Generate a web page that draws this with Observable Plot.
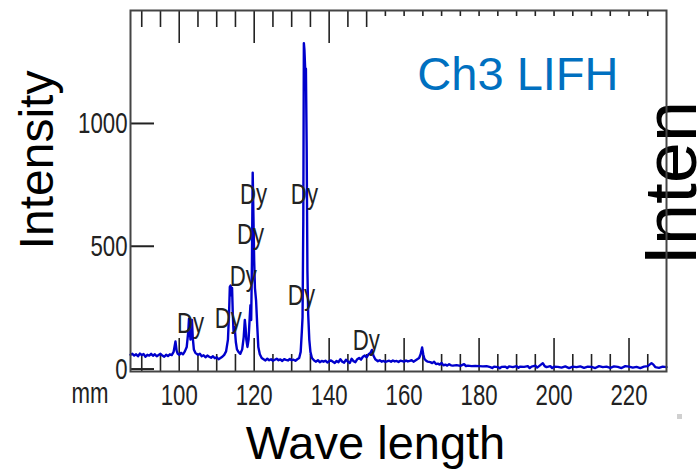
<!DOCTYPE html>
<html><head><meta charset="utf-8">
<script src="https://cdn.jsdelivr.net/npm/d3@7"></script>
<script src="https://cdn.jsdelivr.net/npm/@observablehq/plot@0.6"></script>
<style>
body{margin:0;background:#fff;overflow:hidden}
#chart{position:relative;width:697px;height:476px}
#speck{position:absolute;left:677px;top:414px;width:5px;height:5px;background:#d0d0d0}
</style>
</head><body><div id="chart"><div id="speck"></div></div>
<script>
// Spectrum (wave length vs intensity)
const wavelength = [
 87.0,87.5,88.0,88.5,89.0,89.5,90.0,90.5,91.0,91.5,92.0,92.5,93.0,93.5,94.0,94.5,95.0,95.5,96.0,96.5,97.0,97.5,98.0,98.5,99.0,99.3,99.6,
 100.0,100.5,101.0,101.5,102.0,102.4,102.6,102.8,103.0,103.2,103.4,103.6,103.9,104.3,105.0,105.5,106.0,106.5,107.0,107.5,108.0,108.5,109.0,109.5,
 110.0,110.5,111.0,111.5,112.0,112.5,113.0,113.3,113.5,113.7,113.9,114.1,114.3,114.5,114.8,115.1,115.4,115.8,116.3,116.8,117.2,117.5,117.7,117.9,
 118.2,118.5,118.8,119.0,119.2,119.4,119.6,119.8,120.0,120.2,120.5,120.8,121.1,121.5,122.0,122.5,123.0,123.5,124.0,124.5,125.0,125.5,126.0,126.5,
 127.0,127.5,128.0,128.5,129.0,129.5,130.0,130.5,131.0,131.5,132.0,132.4,132.7,132.9,133.1,133.25,133.4,133.6,133.8,134.0,134.2,134.4,134.7,135.0,
 135.4,136.0,136.5,137.0,137.5,138.0,138.5,139.0,139.5,140.0,140.5,141.0,141.5,142.0,142.5,143.0,143.5,144.0,144.5,145.0,145.5,146.0,146.5,147.0,
 147.5,148.0,148.5,149.0,149.5,150.0,150.5,151.0,151.4,151.8,152.3,153.0,153.5,154.0,154.5,155.0,156.0,156.5,157.0,157.5,158.0,158.5,159.0,160.0,
 160.5,161.0,161.5,162.0,162.5,163.0,163.5,164.0,164.4,164.8,165.1,165.4,165.8,166.3,167.0,167.5,168.0,168.5,169.0,169.5,170.0,170.5,171.0,171.5,
 172.0,172.5,173.0,174.0,175.0,176.0,176.5,177.0,178.0,179.0,180.0,181.0,182.0,183.0,183.5,184.0,185.0,185.5,186.0,187.0,187.5,188.0,189.0,190.0,
 190.5,191.0,192.0,193.0,193.5,194.0,195.0,195.5,196.0,197.0,197.5,198.0,199.0,199.5,200.0,201.0,202.0,203.0,204.0,205.0,206.0,207.0,208.0,209.0,
 210.0,211.0,212.0,213.0,214.0,215.0,216.0,217.0,218.0,219.0,220.0,221.0,222.0,223.0,224.0,225.0,226.0,226.5,227.0,228.0,229.0,230.0
];
const intensity = [
 58,62,55,60,52,63,57,61,50,58,55,62,54,60,52,57,62,55,50,58,53,60,57,70,112,75,62,
 58,66,60,72,90,150,205,160,120,190,200,130,80,66,58,62,52,56,48,55,50,46,52,44,
 48,40,45,50,58,72,120,230,335,340,300,330,220,150,170,110,80,70,62,80,130,200,170,120,
 90,120,210,260,200,440,800,620,440,330,280,180,90,60,45,40,35,42,36,40,34,38,42,36,
 39,33,40,37,35,41,36,38,34,40,45,70,150,210,600,1327,1300,1223,1223,900,400,225,120,70,
 45,35,30,36,28,33,30,34,27,32,35,30,25,33,28,40,30,26,38,30,25,42,32,28,
 40,45,38,50,55,48,60,65,78,55,40,32,36,30,33,29,34,30,35,31,33,29,34,30,
 35,31,33,36,30,35,40,45,60,88,60,42,35,30,28,24,30,20,22,18,25,15,18,14,
 20,15,14,16,13,20,12,14,12,13,12,11,12,8,4,10,8,3,9,10,4,11,8,12,
 5,10,9,12,4,10,14,6,12,24,12,8,12,4,10,9,6,11,4,10,8,11,5,10,
 9,4,12,8,10,5,11,9,4,12,10,6,9,4,10,12,24,18,8,5,10,8
];
// Axis ticks and labels
const xMajorTicks = [100,120,140,160,180,200,220];
const xMinorTicks = [90,95,105,110,115,125,130,135,145,150,155,165,170,175,185,190,195,205,210,215,225];
const topLongTicks = [100,120,140];
const topMidTicks = [90,95,105,110,115,125,130,135,145,150];
const topShortTicks = [155,160,165,170,175,180,185,190,195,200,205,210,215,220,225];
const yTicks = [0,500,1000];
// Peak annotations
const peakLabelX = [103.0,113.1,117.1,119.0,119.8,133.4,132.6,149.9];
const peakLabelY = [148,168,340,509,674,674,262,79];
const peakLabelText = ["Dy","Dy","Dy","Dy","Dy","Dy","Dy","Dy"];
const channelLabel = "Ch3 LIFH";
const yTitle = "Intensity";
const xTitle = "Wave length";
const unitLabel = "mm";
const cutLabel = "Inten";

const spectrum = wavelength.map((w, i) => ({w, v: intensity[i]}));
const peaks = peakLabelX.map((x, i) => ({x, y: peakLabelY[i], t: peakLabelText[i]}));

const W = 697, H = 476, mL = 130, mR = 31, mT = 10, mB = 105;
const innerW = W - mL - mR, innerH = H - mT - mB;
const tickColor = "#222";

const plot = Plot.plot({
  width: W, height: H,
  marginLeft: mL, marginRight: mR, marginTop: mT, marginBottom: mB,
  x: {domain: [87, 230], axis: null},
  y: {domain: [-10, 1460], axis: null},
  style: {fontFamily: "'Liberation Sans', Arial, sans-serif", background: "white", overflow: "visible"},
  marks: [
    Plot.text([cutLabel], {frameAnchor: "right", text: d => d, rotate: -90, textAnchor: "start", lineAnchor: "bottom", fontSize: 74, dx: 29, dy: 74.5, fill: "#000"}),
    Plot.tickX(xMajorTicks, {x: d => d, insetTop: innerH - 33, stroke: tickColor, strokeWidth: 1.6}),
    Plot.tickX(xMinorTicks, {x: d => d, insetTop: innerH - 17, stroke: tickColor, strokeWidth: 1.6}),
    Plot.tickX(topLongTicks, {x: d => d, insetBottom: innerH - 33, stroke: tickColor, strokeWidth: 1.6}),
    Plot.tickX(topMidTicks, {x: d => d, insetBottom: innerH - 17, stroke: tickColor, strokeWidth: 1.6}),
    Plot.tickX(topShortTicks, {x: d => d, insetBottom: innerH - 6, stroke: tickColor, strokeWidth: 1.6}),
    Plot.tickY(yTicks, {y: d => d, insetRight: innerW - 24, stroke: tickColor, strokeWidth: 2}),
    Plot.line(spectrum, {x: "w", y: "v", stroke: "#0000cc", strokeWidth: 2.4}),
    Plot.frame({stroke: "#444", strokeWidth: 2}),
    Plot.text(peaks, {x: "x", y: "y", text: "t", lineAnchor: "bottom", textAnchor: "middle", fontSize: 30, fill: "#222"}),
    Plot.text(xMajorTicks, {x: d => d, text: d => String(d), frameAnchor: "bottom", lineAnchor: "top", dy: 12, fontSize: 30, fill: "#222"}),
    Plot.text(yTicks, {y: d => d, text: d => String(d), frameAnchor: "left", textAnchor: "end", dx: -3, fontSize: 30, fill: "#222"}),
    Plot.text([unitLabel], {frameAnchor: "bottom-left", text: d => d, textAnchor: "end", lineAnchor: "bottom", dx: -22, dy: 31, fontSize: 30, fill: "#222"}),
    Plot.text([yTitle], {frameAnchor: "left", text: d => d, rotate: -90, textAnchor: "middle", lineAnchor: "bottom", fontSize: 48, dx: -78, dy: -31, fill: "#000"}),
    Plot.text([xTitle], {frameAnchor: "bottom", text: d => d, textAnchor: "middle", lineAnchor: "bottom", fontSize: 47, dx: -23, dy: 87, fill: "#000"}),
    Plot.text([channelLabel], {frameAnchor: "top-right", text: d => d, textAnchor: "end", lineAnchor: "bottom", fontSize: 47, dx: -48, dy: 79, fill: "#0070C0"})
  ]
});
document.getElementById("chart").appendChild(plot);
// narrow (condensed) look for the small instrument labels
plot.querySelectorAll('g[font-size="30"] text').forEach(t => {
  const len = t.getComputedTextLength();
  t.setAttribute("textLength", (len * 0.74).toFixed(1));
  t.setAttribute("lengthAdjust", "spacingAndGlyphs");
});
</script>
</body></html>
